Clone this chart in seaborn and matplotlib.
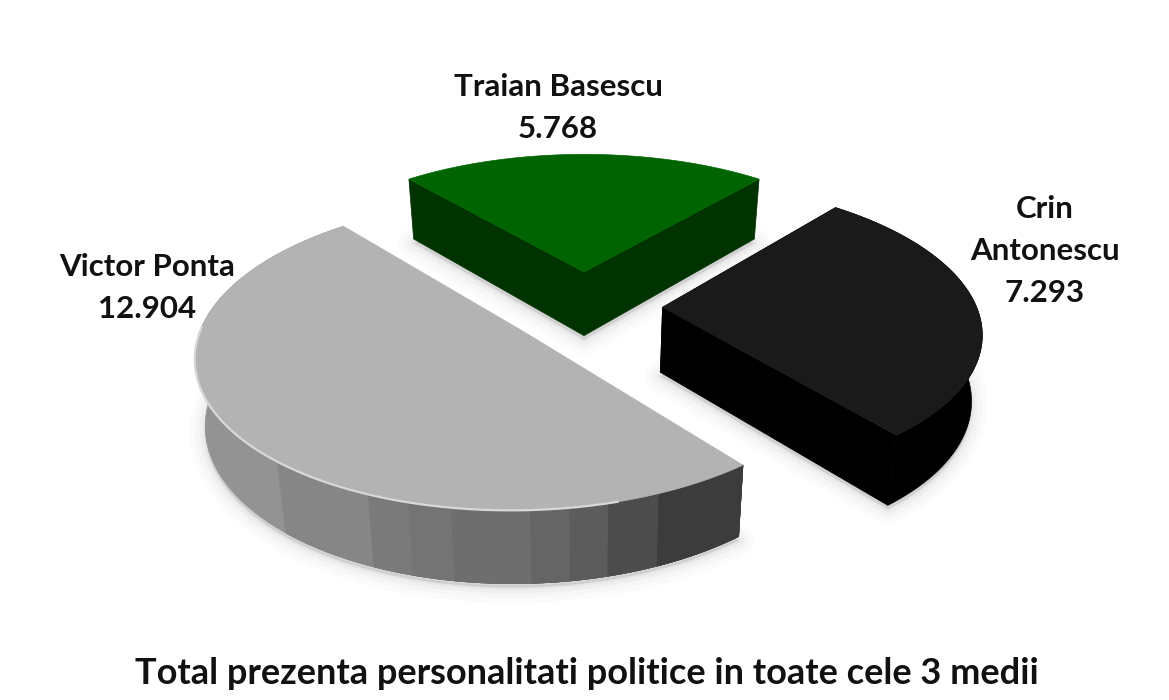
import numpy as np
import matplotlib
matplotlib.use("Agg")
import matplotlib.pyplot as plt
import seaborn as sns

names = ["Traian Basescu", "Crin\nAntonescu", "Victor Ponta"]
values = [5.768, 7.293, 12.904]
title = "Total prezenta personalitati politice in toate cele 3 medii"

top_colors = ["#006400", "#1a1a1a", "#b3b3b3"]
wall_colors = ["#003300", "#000000", None]
band_colors = sns.blend_palette(["#939393", "#7a7a7a", "#6e6e6e", "#5c5c5c", "#3c3c3c"], 9)
band_edges_px = [276, 367, 408, 450, 530, 568, 606, 656]
explode = [0.25, 0.25, 0.25]
label_pos = [(558, 108), (1045, 251), (147, 288)]

sns.set_theme(style="white")
plt.rcParams["font.family"] = ["Lato", "DejaVu Sans"]

CX, CY, A, B, K, H, SHRINK = 584, 307, 314, 145, 0.15, 65, 0.027


def proj(x, y, h=0.0):
    s = 1 / (1 + K * np.asarray(y))
    f = 1 - SHRINK * h
    return CX + A * np.asarray(x) * s * f, CY - B * np.asarray(y) * s * f + H * h * s


fig = plt.figure(figsize=(11.69, 7.0), dpi=100)
ax = fig.add_axes([0, 0, 1, 1])
ax.set_xlim(0, 1169)
ax.set_ylim(700, 0)
ax.axis("off")

sweeps = 360 * np.array(values) / sum(values)
start = 90 + sweeps[0] / 2  # first slice centred at the back, going clockwise
for i, (val, sw) in enumerate(zip(values, sweeps)):
    t0, t1 = start, start - sw
    start = t1
    mid = np.radians((t0 + t1) / 2)
    ox, oy = explode[i] * np.cos(mid), explode[i] * np.sin(mid)
    th = np.radians(np.linspace(t0, t1, 240))
    rx, ry = ox + np.cos(th), oy + np.sin(th)
    sx, sy = proj(rx, ry)
    bx, by = proj(rx, ry, 1)
    ax_, ay_ = proj(ox, oy)
    ax2, ay2 = proj(ox, oy, 1)

    # soft drop shadow under the whole solid
    ox_all = np.r_[ax2, bx]
    oy_all = np.r_[ay2, by]
    for lw, al in [(22, 0.015), (15, 0.02), (8, 0.03), (3, 0.04)]:
        ax.fill(ox_all, oy_all + 4, facecolor="k", edgecolor="k", lw=lw, alpha=al,
                joinstyle="round", zorder=1)

    z = 2 + i
    # radial walls
    for ex, ey, fx, fy in [(sx[0], sy[0], bx[0], by[0]), (sx[-1], sy[-1], bx[-1], by[-1])]:
        if wall_colors[i]:
            ax.fill([ax_, ex, fx, ax2], [ay_, ey, fy, ay2], color=wall_colors[i], lw=0.5, zorder=z)
    # curved wall
    if i == 2:
        ax.fill(np.r_[sx, bx[::-1]], np.r_[sy, by[::-1]], color=band_colors[0], lw=0.5, zorder=z)
        left = int(np.argmin(sx))
        band = np.searchsorted(band_edges_px, sx[:left + 1])
        for b, col in enumerate(band_colors[1:], start=1):
            m = np.where(band >= b)[0]
            if len(m):
                ax.fill(np.r_[sx[m], bx[m][::-1]], np.r_[sy[m], by[m][::-1]],
                        color=col, lw=0.5, zorder=z + 0.01 * b)
    elif i == 1:
        ax.fill(np.r_[sx, bx[::-1]], np.r_[sy, by[::-1]], color=wall_colors[i], lw=0.5, zorder=z)
    # top face
    ax.fill(np.r_[ax_, sx], np.r_[ay_, sy], color=top_colors[i], lw=0.5, zorder=z + 0.5)
    if i == 2:
        ax.plot(sx[30:175], sy[30:175], color="#d8d8d8", lw=1.6, zorder=z + 0.6)
    lx, ly = label_pos[i]
    ax.text(lx, ly, f"{names[i]}\n{val:.3f}", ha="center", va="center", fontsize=22.5,
            fontweight="bold", color="#111111", linespacing=1.6, zorder=10)

ax.text(587, 673, title, ha="center", va="center", fontsize=26, fontweight="bold",
        color="#111111", zorder=10)
fig.savefig("out.png", dpi=100, facecolor="white")
